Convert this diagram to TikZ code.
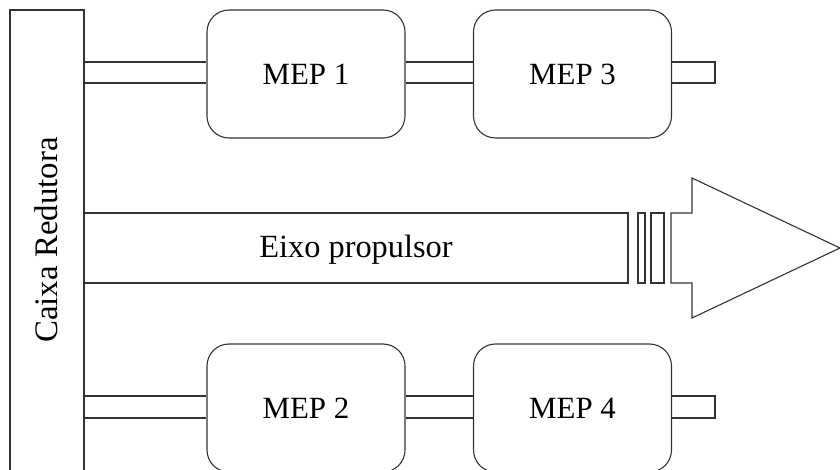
\documentclass[tikz,border=0pt]{standalone}
\usepackage{fontspec}
\setmainfont{Liberation Serif}
\begin{document}
\begin{tikzpicture}[x=1bp,y=-1bp,
  line/.style={draw=black!80,line width=1.1bp},
  mep/.style={line,rounded corners=22bp,minimum width=198bp,minimum height=128bp,inner sep=0pt,font=\fontsize{31}{31}\selectfont},
  lbl/.style={font=\fontsize{32.5}{32.5}\selectfont,inner sep=0pt}]
\useasboundingbox (0,0) rectangle (840,470);
\clip (0,0) rectangle (840,470);
% gearbox
\node[line,rotate=90,minimum width=464bp,minimum height=74bp,inner sep=0pt] (caixa) at (47,242) {};
\node[rotate=90,inner sep=0pt,font=\fontsize{33}{33}\selectfont] (caixatxt) at (46,240) {Caixa Redutora};
% engines
\node[mep] (mep1) at (306,74) {MEP 1};
\node[mep] (mep3) at (572.5,74) {MEP 3};
\node[mep] (mep2) at (306,408) {MEP 2};
\node[mep] (mep4) at (572.5,408) {MEP 4};
% shafts top
\coordinate (s1a) at (84,62); \coordinate (s1b) at (84,83);
\draw[line] (s1a) -- (s1a -| mep1.west) (s1b) -- (s1b -| mep1.west);
\draw[line] (s1a -| mep1.east) -- (s1a -| mep3.west) (s1b -| mep1.east) -- (s1b -| mep3.west);
\coordinate (e1a) at (715,62); \coordinate (e1b) at (715,83);
\draw[line] (e1a -| mep3.east) -- (e1a) -- (e1b) -- (e1b -| mep3.east);
% shafts bottom
\coordinate (s2a) at (84,396); \coordinate (s2b) at (84,418);
\draw[line] (s2a) -- (s2a -| mep2.west) (s2b) -- (s2b -| mep2.west);
\draw[line] (s2a -| mep2.east) -- (s2a -| mep4.west) (s2b -| mep2.east) -- (s2b -| mep4.west);
\coordinate (e2a) at (715,396); \coordinate (e2b) at (715,418);
\draw[line] (e2a -| mep4.east) -- (e2a) -- (e2b) -- (e2b -| mep4.east);
% propeller shaft
\draw[line] (84,213) -- (628,213) -- (628,283) -- (84,283);
\node[lbl] (eixo) at (356,250) {Eixo propulsor};
\draw[line] (638,213) rectangle (645,283);
\draw[line] (651,213) rectangle (664,283);
\draw[line] (671,213) -- (692,213) -- (692,178) -- (840,248) -- (692,318) -- (692,283) -- (671,283) -- cycle;
\end{tikzpicture}
\end{document}
